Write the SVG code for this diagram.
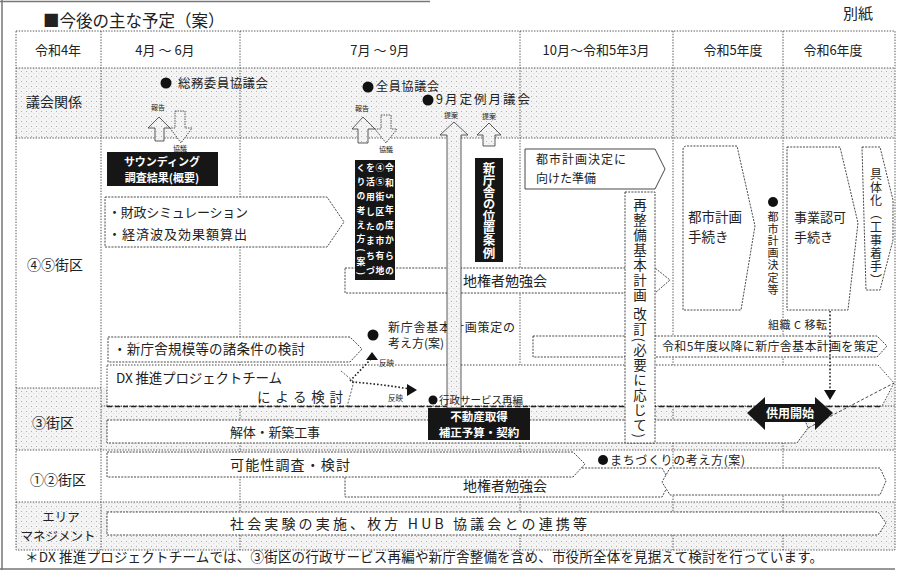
<svg xmlns="http://www.w3.org/2000/svg" width="910" height="573" viewBox="0 0 910 573">
<defs>
<pattern id="dots" width="5" height="5" patternUnits="userSpaceOnUse"><rect width="5" height="5" fill="#f4f4f4"/><rect x="1" y="1" width="1" height="1" fill="#b0b0b0"/><rect x="3.5" y="3" width="0.8" height="0.8" fill="#c8c8c8"/></pattern>
</defs>
<style>
.t{font-family:"Noto Sans CJK JP","Liberation Sans",sans-serif;fill:#222}
.w{font-family:"Noto Sans CJK JP","Liberation Sans",sans-serif;fill:#fff;font-weight:bold}
.v{writing-mode:vertical-rl}
.g{stroke:#444;stroke-width:0.9;stroke-dasharray:1.4 1.4;fill:none}
.bx{fill:#fff;stroke:#333;stroke-width:0.9;stroke-dasharray:2 1.2}
.blk{fill:#161616}
.st{fill:url(#dots)}
.ar{fill:url(#dots);stroke:#333;stroke-width:0.8}
.dot{fill:#111}
.dl{fill:none;stroke:#222;stroke-width:1.6;stroke-dasharray:1.6 2}
</style>
<rect width="910" height="573" fill="#fff"/>
<path d="M0,1.5 H430 M2,0 V570 M0,569 H895" stroke="#777" stroke-width="1.5" fill="none"/>

<g id="title"><text class="t" x="43" y="27" font-size="16.5">■今後の主な予定（案）</text></g>
<g id="bessi"><text class="t" x="843" y="19" font-size="15">別紙</text></g>

<g id="grid">
<rect class="st" x="16" y="68" width="879" height="70"/>
<rect class="st" x="16" y="388" width="879" height="62"/>
<rect class="st" x="16" y="502" width="879" height="48"/>
<rect class="g" x="16" y="31" width="879" height="519"/>
<path class="g" d="M16,68 H895 M16,138 H895 M16,388 H101 M101,406 H895 M16,450 H895 M16,502 H895 M101,31 V550 M240,31 V550 M520,31 V550 M673,31 V550 M783,31 V550"/>
</g>

<g id="header">
<text class="t" x="58" y="55" font-size="13" text-anchor="middle">令和4年</text>
<text class="t" x="165" y="55" font-size="13" text-anchor="middle">4月 ～ 6月</text>
<text class="t" x="380" y="55" font-size="13" text-anchor="middle">7月 ～ 9月</text>
<text class="t" x="596" y="55" font-size="13" text-anchor="middle">10月～令和5年3月</text>
<text class="t" x="733" y="55" font-size="13" text-anchor="middle">令和5年度</text>
<text class="t" x="833" y="55" font-size="13" text-anchor="middle">令和6年度</text>
</g>

<g id="rowlabels">
<text class="t" x="54" y="107" font-size="14" text-anchor="middle">議会関係</text>
<text class="t" x="55" y="270" font-size="14" text-anchor="middle">④⑤街区</text>
<text class="t" x="53" y="428" font-size="14" text-anchor="middle">③街区</text>
<text class="t" x="58" y="485" font-size="14" text-anchor="middle">①②街区</text>
<text class="t" x="61" y="522" font-size="12.5" text-anchor="middle">エリア</text>
<text class="t" x="58" y="541" font-size="12.5" text-anchor="middle">マネジメント</text>
</g>

<g id="n-soumu"><circle class="dot" cx="166" cy="83" r="5.5"/><text class="t" x="178" y="88" font-size="12.5" textLength="90">総務委員協議会</text></g>
<g id="n-zenin"><circle class="dot" cx="368" cy="87" r="5.5"/><text class="t" x="376" y="91" font-size="12" textLength="63">全員協議会</text></g>
<g id="n-teirei"><circle class="dot" cx="428" cy="100" r="5.5"/><text class="t" x="436" y="104" font-size="12.5" textLength="94">9月定例月議会</text></g>

<g id="n-sounding"><rect class="blk" x="107" y="152" width="111" height="34"/>
<text class="w" x="162" y="166" font-size="11" text-anchor="middle">サウンディング</text>
<text class="w" x="162" y="182" font-size="11" text-anchor="middle">調査結果(概要)</text></g>

<g id="n-zaisei"><polygon class="bx" points="105,197 327,197 344,222 327,247 105,247"/>
<text class="t" x="108" y="217" font-size="13" textLength="140">・財政シミュレーション</text>
<text class="t" x="108" y="239" font-size="13" textLength="139">・経済波及効果額算出</text></g>

<g id="n-chiken45"><polygon class="bx" points="345,268 655,268 670,280 655,293 345,293"/>
<text class="t" x="505" y="286" font-size="14" text-anchor="middle">地権者勉強会</text></g>

<g id="n-toshikeikaku-jyunbi"><polygon fill="#fff" stroke="#333" stroke-width="0.9" points="525,149 655,149 665,169 655,189 525,189"/>
<text class="t" x="536" y="164" font-size="12" textLength="90">都市計画決定に</text>
<text class="t" x="536" y="183" font-size="12">向けた準備</text></g>

<g id="n-kibo"><polygon class="bx" points="108,337 350,337 362,349 350,362 108,362"/>
<text class="t" x="113" y="354" font-size="13.5" textLength="192">・新庁舎規模等の諸条件の検討</text></g>

<g id="n-r5box"><polygon class="bx" points="533,336 877,336 887,346 877,357 533,357"/>
<text class="t" x="662" y="351" font-size="12" textLength="216">令和5年度以降に新庁舎基本計画を策定</text></g>

<g id="n-dx"><polygon fill="#fff" stroke="#333" stroke-width="0.9" stroke-dasharray="1.5 1.5" points="107,365 878,365 894,383 882,406 107,406"/>
<path d="M107,406.5 H882" stroke="#222" stroke-width="1.3" stroke-dasharray="5 3"/>
<text class="t" x="116" y="383" font-size="13.5" textLength="166">DX 推進プロジェクトチーム</text>
<text class="t" x="257" y="402" font-size="13.5" textLength="86">による検討</text></g>

<g id="n-kaitai"><polygon class="bx" points="107,420 805,420 808,428 797,443 107,443"/>
<text class="t" x="275" y="437" font-size="13" text-anchor="middle" textLength="90">解体・新築工事</text></g>

<g id="n-chiken12"><polygon class="bx" points="345,468 662,468 670,482 662,497 345,497"/>
<polygon class="bx" points="670,468 880,468 886,481 880,495 670,495 662,482"/>
<text class="t" x="505" y="491" font-size="14" text-anchor="middle">地権者勉強会</text></g>

<g id="n-kanousei"><polygon class="bx" points="107,452 573,452 585,464 573,477 107,477"/>
<text class="t" x="290" y="470" font-size="14" text-anchor="middle" textLength="120">可能性調査・検討</text></g>

<g id="n-machi"><circle class="dot" cx="603" cy="460" r="5"/><text class="t" x="610" y="465" font-size="12" textLength="135">まちづくりの考え方(案)</text></g>

<g id="n-shakai"><polygon class="bx" points="107,512 878,512 886,523 878,535 107,535"/>
<text class="t" x="230" y="529" font-size="14" textLength="357">社会実験の実施、枚方 HUB 協議会との連携等</text></g>

<g id="n-toshi-tetsuzuki"><path class="bx" d="M683,150 Q683,146 687,146 H737 L755,226 L741,310 H683 Z"/>
<text class="t" x="688" y="222" font-size="13.5">都市計画</text>
<text class="t" x="688" y="242" font-size="13.5">手続き</text></g>

<g id="n-kettei"><circle class="dot" cx="773" cy="202" r="5"/><text class="t v" x="773" y="211" font-size="11" textLength="84">都市計画決定等</text></g>

<g id="n-ninka"><polygon class="bx" points="787,147 840,147 858,223 848,310 787,310"/>
<text class="t" x="794" y="222" font-size="13">事業認可</text>
<text class="t" x="794" y="242" font-size="13">手続き</text></g>

<g id="n-gutaika"><polygon class="bx" points="862,147 880,147 893,200 893,240 880,290 866,290"/>
<text class="t v" x="876" y="168" font-size="12" textLength="118">具体化（工事着手）</text></g>

<g id="n-saiseibi"><rect class="bx" x="625" y="192" width="30" height="251"/>
<text class="t v" x="640" y="198" font-size="13.5" textLength="240">再整備基本計画 改訂(必要に応じて)</text></g>

<g id="n-kihon-kangae"><circle class="dot" cx="373" cy="335" r="5.5"/>
<text class="t" x="388" y="332" font-size="12" textLength="127">新庁舎基本計画策定の</text>
<text class="t" x="388" y="348" font-size="12">考え方(案)</text></g>

<g id="connectors">
<polygon class="ar" points="159,117 148,128 155,128 155,141 164,141 164,128 170,128"/>
<polygon class="ar" stroke-dasharray="1.5 1" points="175,111 185,111 185,128 192,128 181,143 170,128 175,128"/>
<polygon class="ar" points="363,117 352,129 358,129 358,143 368,143 368,129 375,129"/>
<polygon class="ar" stroke-dasharray="1.5 1" points="381,115 391,115 391,129 397,129 386,143 375,129 381,129"/>
<polygon class="ar" points="454,122 440,135 447,135 447,408 461,408 461,135 468,135"/>
<polygon class="ar" points="489,123 477,135 483,135 483,146 495,146 495,135 501,135"/>
<path class="dl" d="M350,381 L371,359"/>
<polygon points="372,352 366,360 378,360" fill="#111"/>
<path class="dl" d="M352,382 Q380,384 410,389"/>
<polygon points="417,390 407,384 407,396" fill="#111"/>
<path d="M347,407 L354,381 M341,371 L353,381" stroke="#333" stroke-width="0.8" stroke-dasharray="2 1.5" fill="none"/>
<path class="dl" d="M830,311 V392"/>
<polygon points="830,400 824,390 836,390" fill="#111"/>
<path d="M808,428 L894,383" stroke="#333" stroke-width="0.9" stroke-dasharray="3 2" fill="none"/>
</g>

<g id="n-vbox"><rect class="blk" x="355" y="160" width="40" height="120"/>
<text class="w v" x="389.5" y="163" font-size="8.8" textLength="112">令和5年度からの</text>
<text class="w v" x="380" y="163" font-size="8.8" textLength="112">④⑤街区の市有地</text>
<text class="w v" x="370.5" y="163" font-size="8.8" textLength="112">を活用したまちづ</text>
<text class="w v" x="361" y="163" font-size="8.8" textLength="112">くりの考え方(案)</text></g>

<g id="n-ichijorei"><rect class="blk" x="475" y="158" width="28" height="104"/>
<text class="w v" x="489" y="162" font-size="12.5" textLength="97">新庁舎の位置条例</text></g>

<g id="labels">
<text class="t" x="158" y="110" font-size="7" text-anchor="middle">報告</text>
<text class="t" x="180" y="151" font-size="7" text-anchor="middle">協議</text>
<text class="t" x="362" y="111" font-size="7" text-anchor="middle">報告</text>
<text class="t" x="386" y="152" font-size="7" text-anchor="middle">協議</text>
<text class="t" x="451" y="118" font-size="7" text-anchor="middle">提案</text>
<text class="t" x="489" y="119" font-size="7" text-anchor="middle">提案</text>
<text class="t" x="379" y="366" font-size="7.5">反映</text>
<text class="t" x="388" y="401" font-size="7.5">反映</text>
<text class="t" x="768" y="329" font-size="11" textLength="59">組織 C 移転</text>
</g>

<g id="n-gyosei"><circle class="dot" cx="433" cy="400" r="4.5"/><text class="t" x="439" y="404" font-size="10.5" textLength="84">行政サービス再編</text></g>

<g id="n-fudousan"><rect class="blk" x="428" y="408" width="102" height="32"/>
<text class="w" x="479" y="420.5" font-size="11.5" text-anchor="middle">不動産取得</text>
<text class="w" x="479" y="437" font-size="11.5" text-anchor="middle">補正予算・契約</text></g>

<g id="n-kyoyo"><polygon class="blk" points="747,413 765,397 765,404 815,404 815,397 833,413 815,430 815,422 765,422 765,430"/>
<text class="w" x="790" y="418" font-size="12" text-anchor="middle">供用開始</text></g>

<g id="footnote"><text class="t" x="25" y="562" font-size="13.5" textLength="798">＊DX 推進プロジェクトチームでは、③街区の行政サービス再編や新庁舎整備を含め、市役所全体を見据えて検討を行っています。</text></g>
</svg>
